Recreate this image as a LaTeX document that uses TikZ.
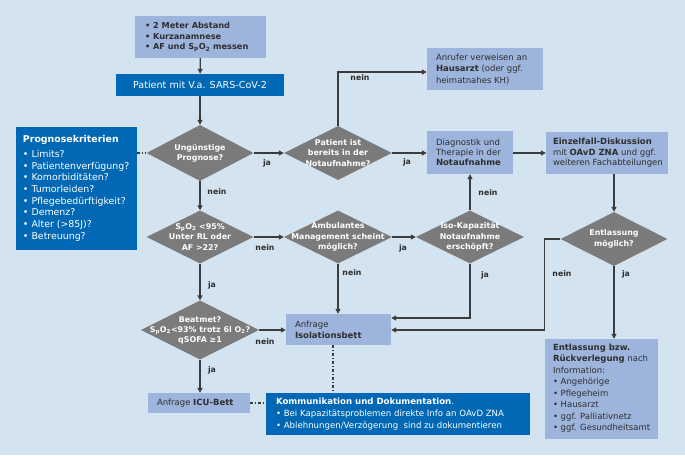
\documentclass[tikz,border=0pt]{standalone}
\usepackage{fontspec}
\setmainfont{DejaVu Sans}
\usetikzlibrary{shapes.geometric,arrows.meta}
\definecolor{bg}{HTML}{D3E3EF}
\definecolor{lbox}{HTML}{9DB4DC}
\definecolor{dbox}{HTML}{0068B4}
\definecolor{dia}{HTML}{7B7B7B}
\definecolor{ink}{HTML}{2E2E2E}
\definecolor{ln}{HTML}{3C3C3C}
\newcommand{\spo}{S\textsubscript{p}O\textsubscript{2}}
\begin{document}
\begin{tikzpicture}[x=1pt,y=-1pt,
  lb/.style={fill=lbox,draw=none,inner sep=0,shape=rectangle},
  db/.style={fill=dbox,draw=none,inner sep=0,shape=rectangle},
  tx/.style={text=ink,font=\fontsize{8.5}{10.8}\selectfont,align=left,inner sep=0,anchor=west},
  wtx/.style={text=white,font=\fontsize{8.6}{12}\selectfont,align=left,inner sep=0,anchor=west},
  dm/.style={shape=diamond,fill=dia,draw=none,inner sep=0},
  dt/.style={text=white,font=\fontsize{7.9}{10.4}\selectfont\bfseries,align=center,inner sep=0},
  lab/.style={text=ink,font=\fontsize{7.8}{9}\selectfont\bfseries,inner sep=0},
  arr/.style={draw=ln,line width=1.2pt,-{Triangle[length=5pt,width=5pt]}},
  dd/.style={draw=ln,line width=1.1pt,dash pattern=on 3pt off 2pt on 1pt off 2pt}]
\fill[bg] (0,0) rectangle (685,455);
\useasboundingbox (0,0) rectangle (685,455);

% boxes
\node[lb,minimum width=131,minimum height=42] (top) at (200.5,37) {};
\node[tx,font=\fontsize{8.2}{10.5}\selectfont\bfseries] (topT) at ([xshift=10pt]top.west) {• 2 Meter Abstand\\• Kurzanamnese\\• AF und \spo{} messen};

\node[db,minimum width=168,minimum height=22,text=white,font=\fontsize{9.6}{11}\selectfont] (pat) at (200,85) {Patient mit V.a. SARS-CoV-2};

\node[db,minimum width=121,minimum height=123] (progn) at (76.5,188.5) {};
\node[wtx,font=\fontsize{9.4}{11.7}\selectfont] (prognT) at ([xshift=7pt]progn.west) {\textbf{Prognosekriterien}\\[3pt]• Limits?\\• Patientenverfügung?\\• Komorbiditäten?\\• Tumorleiden?\\• Pflegebedürftigkeit?\\• Demenz?\\• Alter (>85J)?\\• Betreuung?};

\node[lb,minimum width=116,minimum height=42] (anr) at (485,69) {};
\node[tx,font=\fontsize{8.5}{11.5}\selectfont] (anrT) at ([xshift=9pt]anr.west) {Anrufer verweisen an\\\textbf{Hausarzt} (oder ggf.\\heimatnahes KH)};

\node[lb,minimum width=86,minimum height=43] (diag) at (470,152.5) {};
\node[tx,font=\fontsize{8.5}{10.2}\selectfont] (diagT) at ([xshift=9pt]diag.west) {Diagnostik und\\Therapie in der\\\textbf{Notaufnahme}};

\node[lb,minimum width=122,minimum height=42] (einz) at (607,153) {};
\node[tx,font=\fontsize{8.5}{10.5}\selectfont] (einzT) at ([xshift=7pt]einz.west) {\textbf{Einzelfall-Diskussion}\\mit \textbf{OAvD ZNA} und ggf.\\weiteren Fachabteilungen};

\node[lb,minimum width=113,minimum height=100] (entl) at (601.5,389) {};
\node[tx,font=\fontsize{8.5}{11.5}\selectfont] (entlT) at ([xshift=8pt,yshift=1pt]entl.west) {\textbf{Entlassung bzw.}\\\textbf{Rückverlegung} nach\\Information:\\• Angehörige\\• Pflegeheim\\• Hausarzt\\• ggf. Palliativnetz\\• ggf. Gesundheitsamt};

\node[lb,minimum width=105,minimum height=31] (isol) at (338.5,329.5) {};
\node[tx,font=\fontsize{8.5}{11}\selectfont] (isolT) at ([xshift=9pt]isol.west) {Anfrage\\\textbf{Isolationsbett}};

\node[lb,minimum width=102,minimum height=20] (icu) at (199,403) {};
\node[tx] (icuT) at ([xshift=9pt]icu.west) {Anfrage \textbf{ICU-Bett}};

\node[db,minimum width=264,minimum height=42] (komm) at (398,414) {};
\node[wtx] (kommT) at ([xshift=10pt]komm.west) {\textbf{Kommunikation und Dokumentation}.\\• Bei Kapazitätsproblemen direkte Info an OAvD ZNA\\• Ablehnungen/Verzögerung\ \ sind zu dokumentieren};

% diamonds
\node[dm,minimum width=107,minimum height=56] (d1) at (200,153) {};
\node[dt] (d1T) at (d1) {Ungünstige\\Prognose?};
\node[dm,minimum width=108,minimum height=54] (d2) at (338,153) {};
\node[dt] (d2T) at (d2) {Patient ist\\bereits in der\\Notaufnahme?};
\node[dm,minimum width=107,minimum height=53] (d3) at (200,237) {};
\node[dt] (d3T) at (d3) {\spo{} <95\%\\Unter RL oder\\AF >22?};
\node[dm,minimum width=108,minimum height=53] (d4) at (338,237) {};
\node[dt] (d4T) at (d4) {Ambulantes\\Management scheint\\möglich?};
\node[dm,minimum width=108,minimum height=53] (d5) at (470,237) {};
\node[dt] (d5T) at (d5) {Iso-Kapazität\\Notaufnahme\\erschöpft?};
\node[dm,minimum width=107,minimum height=54] (d6) at (614,239) {};
\node[dt] (d6T) at (d6) {Entlassung\\möglich?};
\node[dm,minimum width=118,minimum height=59] (d7) at (200,330) {};
\node[dt,font=\fontsize{7.9}{10}\selectfont\bfseries] (d7T) at (d7) {Beatmet?\\\spo{}<93\% trotz 6l O\textsubscript{2}?\\qSOFA ≥1};

% connectors
\draw[arr] (top) -- (pat);
\draw[arr] (pat) -- (d1);
\draw[dd] (progn.east |- d1.west) -- (d1.west);
\draw[arr] (d1.east) -- (d2.west);
\draw[arr] (d2.north) |- ([yshift=-3pt]anr.west);
\draw[arr] (d2.east) -- (diag.west |- d2.east);
\draw[arr] (diag.east |- einz.west) -- (einz.west);
\draw[arr] (d6.north |- einz.south) -- (d6.north);
\draw[arr] (d1.south) -- (d3.north);
\draw[arr] (d3.east) -- (d4.west);
\draw[arr] (d4.east) -- (d5.west);
\draw[arr] (d5.north) -- (diag.south -| d5.north);
\draw[arr] (d5.south) |- ([yshift=11.5pt]isol.east);
\draw[arr] (d4.south) -- (isol.north -| d4.south);
\draw[arr] (d6.west) -- ++(-16,0) |- ([yshift=-0.5pt]isol.east);
\draw[arr] (d6.south) -- (d6.south |- entl.north);
\draw[arr] (d3.south) -- (d7.north);
\draw[arr] (d7.east) -- (isol.west |- d7.east);
\draw[arr] (d7.south) -- (icu.north -| d7.south);
\draw[dd] (icu.east) -- (komm.west |- icu.east);
\coordinate (isoB) at ([xshift=-5.5pt]isol.south);
\draw[dd] (isoB) -- (isoB |- komm.north);

% labels
\node[lab] (l1) at (267,163) {ja};
\node[lab] (l2) at (360,78) {nein};
\node[lab] (l3) at (407,162) {ja};
\node[lab] (l4) at (217,192) {nein};
\node[lab] (l5) at (265,248) {nein};
\node[lab] (l6) at (403,248) {ja};
\node[lab] (l7) at (488,193) {nein};
\node[lab] (l8) at (485,275) {ja};
\node[lab] (l9) at (352,273) {nein};
\node[lab] (l10) at (212,285) {ja};
\node[lab] (l11) at (562,274) {nein};
\node[lab] (l12) at (626,274) {ja};
\node[lab] (l13) at (265,342) {nein};
\node[lab] (l14) at (212,370) {ja};
\end{tikzpicture}
\end{document}
